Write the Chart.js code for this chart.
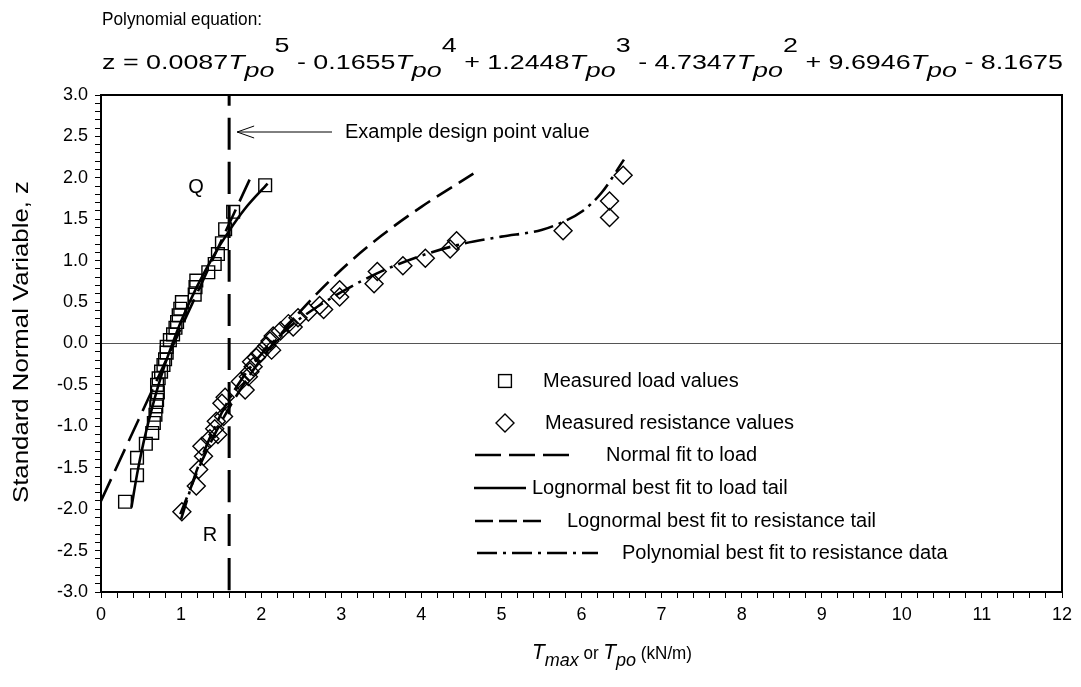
<!DOCTYPE html>
<html><head><meta charset="utf-8">
<script src="https://cdn.jsdelivr.net/npm/chart.js@4.4.0/dist/chart.umd.min.js"></script>
<style>html,body{margin:0;padding:0;background:#fff}#wrap{width:1081px;height:687px;position:relative}</style>
</head><body><div id="wrap"><canvas id="c" width="1081" height="687"></canvas></div>
<script>
// ---- data ----
const loadX = [0.30,0.45,0.45,0.56,0.64,0.66,0.68,0.69,0.70,0.71,0.70,0.72,0.75,0.78,0.80,0.82,0.82,0.86,0.90,0.93,0.95,0.97,0.99,1.01,1.17,1.18,1.19,1.34,1.42,1.46,1.51,1.55,1.65,2.05];
const loadZ = [-1.91,-1.59,-1.38,-1.21,-1.08,-0.96,-0.86,-0.76,-0.68,-0.59,-0.50,-0.42,-0.34,-0.26,-0.19,-0.11,-0.04,0.04,0.11,0.19,0.26,0.34,0.42,0.50,0.59,0.68,0.76,0.86,0.96,1.08,1.21,1.38,1.59,1.91];
const resX = [1.01,1.19,1.22,1.28,1.26,1.36,1.46,1.42,1.44,1.53,1.51,1.55,1.80,1.74,1.84,1.86,1.90,1.88,1.94,1.98,2.13,2.07,2.11,2.15,2.24,2.40,2.34,2.46,2.59,2.78,2.73,2.98,2.98,3.41,3.45,3.77,4.05,4.36,4.44,5.77,6.35,6.35,6.52];
const resZ = [-2.03,-1.72,-1.52,-1.36,-1.24,-1.15,-1.10,-1.03,-0.94,-0.88,-0.72,-0.65,-0.56,-0.46,-0.40,-0.34,-0.28,-0.22,-0.17,-0.12,-0.08,-0.03,0.03,0.09,0.15,0.20,0.24,0.31,0.38,0.41,0.46,0.56,0.65,0.72,0.87,0.94,1.03,1.14,1.24,1.36,1.52,1.72,2.03];
const normFitX = [0.00,1.89];
const normFitZ = [-1.90,2.05];
const lnLoadX = [0.38,0.45,0.53,0.60,0.70,0.80,0.90,1.00,1.20,1.40,1.60,1.80,2.08];
const lnLoadZ = [-1.98,-1.58,-1.20,-0.92,-0.56,-0.25,0.02,0.27,0.69,1.05,1.36,1.63,1.93];
const lnResX = [0.99,1.25,1.50,1.75,2.00,2.50,3.00,3.50,4.00,4.65];
const lnResZ = [-2.06,-1.44,-0.95,-0.54,-0.19,0.40,0.89,1.30,1.65,2.05];
const polyX = [1.00,1.20,1.50,1.75,2.00,2.25,2.50,3.00,3.50,4.00,4.50,5.00,5.50,5.75,6.00,6.25,6.53];
const polyZ = [-2.12,-1.52,-0.85,-0.44,-0.13,0.11,0.31,0.62,0.87,1.06,1.20,1.29,1.37,1.46,1.59,1.82,2.22];
const designX = [1.6,1.6];
const designZ = [-3.0,3.0];
const xTickLabels = ['0','1','2','3','4','5','6','7','8','9','10','11','12'];
const yTickLabels = ['-3.0','-2.5','-2.0','-1.5','-1.0','-0.5','0.0','0.5','1.0','1.5','2.0','2.5','3.0'];
const legendLabels = ['Measured load values','Measured resistance values','Normal fit to load','Lognormal best fit to load tail','Lognormal best fit to resistance tail','Polynomial best fit to resistance data'];

const pts = (xs, ys) => xs.map((x, i) => ({x: x, y: ys[i]}));
const FONT = 'Arial, "Liberation Sans", sans-serif';

const lineDs = (data, dash, width) => ({type:'line', data, showLine:true, borderColor:'#000', borderWidth:width||2.6, borderDash:dash, pointRadius:0, pointHoverRadius:0, fill:false, tension:0, cubicInterpolationMode:'monotone'});

const datasets = [
  {type:'scatter', data: pts(loadX, loadZ), pointStyle:'rect', pointRadius:9, pointHoverRadius:9, borderColor:'#000', borderWidth:1.4, backgroundColor:'rgba(0,0,0,0)'},
  {type:'scatter', data: pts(resX, resZ), pointStyle:'rectRot', pointRadius:9, pointHoverRadius:9, borderColor:'#000', borderWidth:1.4, backgroundColor:'rgba(0,0,0,0)'},
  lineDs(pts(normFitX, normFitZ), [24,9]),
  lineDs(pts(lnLoadX, lnLoadZ), []),
  lineDs(pts(lnResX, lnResZ), [18,8]),
  lineDs(pts(polyX, polyZ), [20,6,3,6]),
  Object.assign(lineDs(pts(designX, designZ), [32,12], 3), {borderDashOffset:42})
];

function drawRich(ctx, parts, x, baseline, targetW) {
  let w = 0;
  parts.forEach(p => { ctx.font = p.f; w += ctx.measureText(p.t).width; });
  const sx = targetW ? targetW / w : 1;
  ctx.save();
  ctx.translate(x, baseline);
  ctx.scale(sx, 1);
  let cx = 0;
  parts.forEach(p => { ctx.font = p.f; ctx.fillText(p.t, cx, p.dy || 0); cx += ctx.measureText(p.t).width; });
  ctx.restore();
  return w * sx;
}

const decor = {
  id: 'decor',
  afterDraw(chart) {
    const ctx = chart.ctx, a = chart.chartArea;
    const xs = chart.scales.x;
    ctx.save();
    // frame
    ctx.strokeStyle = '#000'; ctx.lineWidth = 2; ctx.setLineDash([]);
    ctx.strokeRect(a.left, a.top, a.right - a.left, a.bottom - a.top);
    ctx.fillStyle = '#000';
    ctx.textBaseline = 'alphabetic';
    // title
    drawRich(ctx, [{t:'Polynomial equation:', f:'19px ' + FONT}], 102, 25, 160);
    const n = '21px ' + FONT, it = 'italic 21px ' + FONT;
    const eq = [];
    const coefs = ['z = 0.0087', ' - 0.1655', ' + 1.2448', ' - 4.7347', ' + 9.6946'];
    const pows = ['5','4','3','2',''];
    coefs.forEach((c, i) => {
      eq.push({t:c, f:n});
      eq.push({t:'T', f:it});
      eq.push({t:'po', f:it, dy:8});
      if (pows[i]) eq.push({t:pows[i], f:n, dy:-17});
    });
    eq.push({t:' - 8.1675', f:n});
    drawRich(ctx, eq, 102, 69, 961);
    // x axis title
    const xt = [
      {t:'T', f:'italic 22px ' + FONT},
      {t:'max', f:'italic 19px ' + FONT, dy:7},
      {t:' or ', f:'18px ' + FONT},
      {t:'T', f:'italic 22px ' + FONT},
      {t:'po', f:'italic 19px ' + FONT, dy:7},
      {t:' (kN/m)', f:'18px ' + FONT}
    ];
    drawRich(ctx, xt, 532, 659, 160);
    // y axis title
    ctx.save();
    ctx.translate(28, 342);
    ctx.rotate(-Math.PI / 2);
    ctx.font = '22px ' + FONT;
    const yt = 'Standard Normal Variable, z';
    const yw = ctx.measureText(yt).width;
    ctx.scale(322 / yw, 1);
    ctx.textAlign = 'center';
    ctx.fillText(yt, 0, 0);
    ctx.restore();
    // annotation arrow
    ctx.lineWidth = 1; ctx.strokeStyle = '#000';
    const ay = 132, tip = xs.getPixelForValue(1.6) + 8;
    ctx.beginPath(); ctx.moveTo(tip, ay); ctx.lineTo(332, ay);
    ctx.moveTo(tip + 17, ay - 6); ctx.lineTo(tip, ay); ctx.lineTo(tip + 17, ay + 6);
    ctx.stroke();
    ctx.font = '20px ' + FONT; ctx.textBaseline = 'middle';
    ctx.fillText('Example design point value', 345, ay);
    // Q and R
    ctx.textAlign = 'center';
    ctx.fillText('Q', 196, 187);
    ctx.fillText('R', 210, 535);
    // legend
    ctx.textAlign = 'left';
    const rows = [381, 423, 455, 488, 521, 553];
    const tx = [543, 545, 606, 532, 567, 622];
    ctx.lineWidth = 1.4;
    ctx.strokeRect(505 - 6.4, rows[0] - 6.4, 12.8, 12.8);
    ctx.beginPath(); ctx.moveTo(505 - 9, rows[1]); ctx.lineTo(505, rows[1] - 9); ctx.lineTo(505 + 9, rows[1]); ctx.lineTo(505, rows[1] + 9); ctx.closePath(); ctx.stroke();
    const seg = (y, x0, x1, dash) => { ctx.save(); ctx.lineWidth = 2.6; ctx.setLineDash(dash); ctx.beginPath(); ctx.moveTo(x0, y); ctx.lineTo(x1, y); ctx.stroke(); ctx.restore(); };
    seg(rows[2], 475, 570, [26,8]);
    seg(rows[3], 474, 526, []);
    seg(rows[4], 475, 542, [18,6]);
    seg(rows[5], 477, 598, [20,6,3,6]);
    ctx.font = '20px ' + FONT;
    legendLabels.forEach((l, i) => ctx.fillText(l, tx[i], rows[i]));
    ctx.restore();
  }
};

const isMult = (v, s) => Math.abs(v / s - Math.round(v / s)) < 1e-6;

new Chart(document.getElementById('c'), {
  type: 'scatter',
  data: { datasets },
  options: {
    responsive: false,
    animation: false,
    events: [],
    layout: { padding: { top: 95, right: 19, bottom: 0, left: 0 } },
    plugins: { legend: { display: false }, tooltip: { enabled: false } },
    scales: {
      x: {
        type: 'linear', min: 0, max: 12,
        afterFit: s => { s.height = 95; },
        border: { color: '#000', width: 2 },
        grid: { drawOnChartArea: false, tickLength: 6, tickColor: '#000', tickWidth: 1 },
        ticks: { stepSize: 0.2, autoSkip: false, maxRotation: 0, padding: 6, color: '#000', font: { size: 18, family: FONT },
          callback: v => isMult(v, 1) ? xTickLabels[Math.round(v)] : '' }
      },
      y: {
        type: 'linear', min: -3, max: 3,
        afterFit: s => { s.width = 101; },
        border: { color: '#000', width: 2 },
        grid: { drawOnChartArea: true, tickLength: 6, tickColor: '#000', tickWidth: 1,
          color: c => (c.tick && Math.abs(c.tick.value) < 1e-9) ? '#555' : 'rgba(0,0,0,0)', lineWidth: 1 },
        ticks: { stepSize: 0.1, autoSkip: false, padding: 7, color: '#000', font: { size: 18, family: FONT },
          callback: v => isMult(v, 0.5) ? yTickLabels[Math.round((v + 3) * 2)] : '' }
      }
    }
  },
  plugins: [decor]
});
</script>
</body></html>
